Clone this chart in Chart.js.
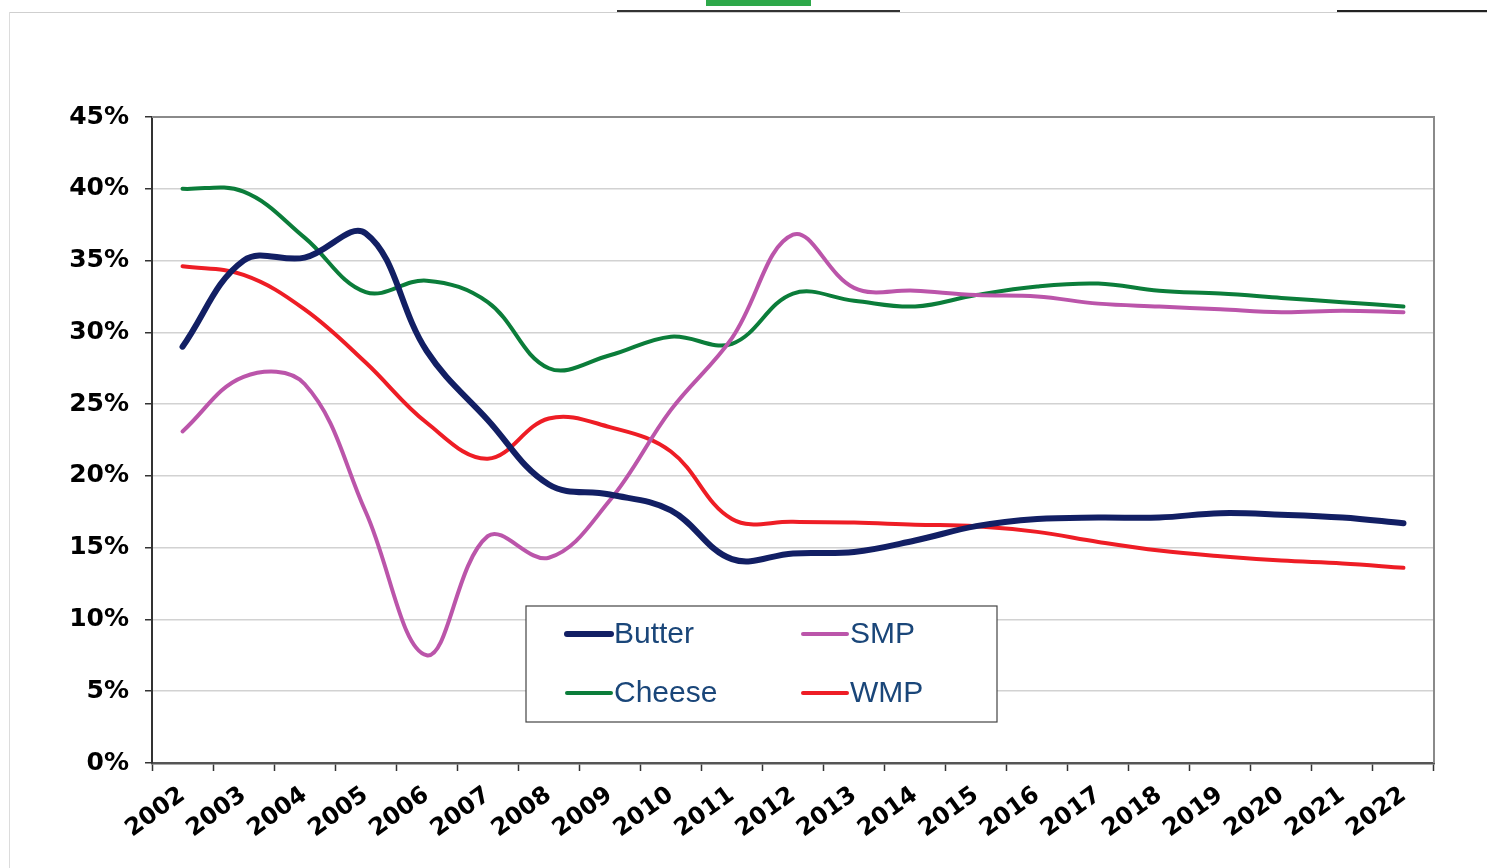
<!DOCTYPE html>
<html>
<head>
<meta charset="utf-8">
<script src="https://cdn.jsdelivr.net/npm/chart.js@4.4.1/dist/chart.umd.min.js"></script>
<style>
    html, body { margin: 0; padding: 0; background: #ffffff; }
    #page { position: relative; width: 1487px; height: 868px; overflow: hidden; }
    .deco { position: absolute; }
    #chart { position: absolute; left: 0; top: 0; }
</style>
</head>
<body>
<div id="page">
    <!-- bordas e marcas do slide -->
    <div class="deco" style="left:9px; top:12px; width:1478px; height:1px; background:#cfcfcf;"></div>
    <div class="deco" style="left:9px; top:12px; width:1px; height:856px; background:#dcdcdc;"></div>
    <div class="deco" style="left:617px; top:10px; width:283px; height:2px; background:#333333;"></div>
    <div class="deco" style="left:706px; top:0px; width:105px; height:6px; background:#2ea84a;"></div>
    <div class="deco" style="left:1337px; top:10px; width:150px; height:2px; background:#222222;"></div>
    <canvas id="chart" width="1487" height="868"></canvas>
</div>
<script>
// --- Dados ---
const years = ['2002', '2003', '2004', '2005', '2006', '2007', '2008', '2009', '2010', '2011', '2012',
               '2013', '2014', '2015', '2016', '2017', '2018', '2019', '2020', '2021', '2022'];

const butter = [29.0, 35.0, 35.2, 36.9, 28.7, 23.9, 19.4, 18.7, 17.6, 14.2, 14.6,
                14.7, 15.5, 16.5, 17.0, 17.1, 17.1, 17.4, 17.3, 17.1, 16.7];
const smp    = [23.1, 26.9, 26.4, 17.5, 7.5, 15.8, 14.3, 18.3, 24.6, 29.6, 36.8,
                33.1, 32.9, 32.6, 32.5, 32.0, 31.8, 31.6, 31.4, 31.5, 31.4];
const cheese = [40.0, 39.8, 36.6, 32.8, 33.6, 32.1, 27.5, 28.4, 29.7, 29.2, 32.7,
                32.2, 31.8, 32.6, 33.2, 33.4, 32.9, 32.7, 32.4, 32.1, 31.8];
const wmp    = [34.6, 34.0, 31.6, 27.9, 23.7, 21.2, 24.0, 23.4, 21.7, 17.0, 16.8,
                16.75, 16.6, 16.5, 16.1, 15.4, 14.8, 14.4, 14.1, 13.9, 13.6];

const yTicks = [0, 5, 10, 15, 20, 25, 30, 35, 40, 45];

// --- Plugin: borda superior/direita da área do gráfico ---
const plotFrame = {
    id: 'plotFrame',
    afterDraw(chart) {
        const { ctx, chartArea: a } = chart;
        ctx.save();
        ctx.strokeStyle = '#8a8a8a';
        ctx.lineWidth = 2;
        ctx.beginPath();
        ctx.moveTo(a.left, a.top);
        ctx.lineTo(a.right, a.top);
        ctx.lineTo(a.right, a.bottom);
        ctx.stroke();
        ctx.restore();
    }
};

// --- Plugin: legenda em caixa (2 colunas) dentro do gráfico ---
const boxLegend = {
    id: 'boxLegend',
    afterDraw(chart, args, opts) {
        const { ctx } = chart;
        const box = opts.box;
        ctx.save();
        ctx.fillStyle = '#ffffff';
        ctx.fillRect(box.x, box.y, box.w, box.h);
        ctx.strokeStyle = '#444444';
        ctx.lineWidth = 1.2;
        ctx.strokeRect(box.x, box.y, box.w, box.h);

        ctx.font = opts.font;
        ctx.textBaseline = 'middle';
        ctx.textAlign = 'left';
        ctx.lineCap = 'round';

        chart.data.datasets.forEach((ds, i) => {
            const col = i % 2;
            const row = Math.floor(i / 2);
            const x = box.x + opts.colX[col];
            const y = box.y + opts.rowY[row];
            ctx.strokeStyle = ds.borderColor;
            ctx.lineWidth = ds.borderWidth;
            ctx.beginPath();
            ctx.moveTo(x, y);
            ctx.lineTo(x + opts.lineLen, y);
            ctx.stroke();
            ctx.fillStyle = opts.color;
            ctx.fillText(ds.label, x + opts.lineLen + 3, y + 1);
        });
        ctx.restore();
    }
};

function makeSeries(label, data, color, width) {
    return {
        label: label,
        data: data,
        borderColor: color,
        backgroundColor: color,
        borderWidth: width,
        pointRadius: 0,
        pointHoverRadius: 0,
        tension: 0.38,
        fill: false,
        borderCapStyle: 'round'
    };
}

const ctx = document.getElementById('chart').getContext('2d');
new Chart(ctx, {
    type: 'line',
    data: {
        labels: years,
        datasets: [
            makeSeries('Butter', butter, '#121f64', 6),
            makeSeries('SMP', smp, '#bb55aa', 4),
            makeSeries('Cheese', cheese, '#0b7d3a', 4),
            makeSeries('WMP', wmp, '#ee1d25', 4)
        ]
    },
    options: {
        responsive: false,
        animation: false,
        events: [],
        layout: { padding: { left: 0, top: 117, right: 53, bottom: 0 } },
        plugins: {
            legend: { display: false },
            tooltip: { enabled: false },
            boxLegend: {
                box: { x: 526, y: 606, w: 471, h: 116 },
                colX: [41, 277],
                rowY: [28, 87],
                lineLen: 44,
                font: '30px "Liberation Sans", Arial, sans-serif',
                color: '#1a4679'
            }
        },
        scales: {
            x: {
                offset: true,
                afterFit: (scale) => { scale.height = 105; },
                grid: {
                    offset: true,
                    drawOnChartArea: false,
                    drawTicks: true,
                    tickLength: 8,
                    tickColor: '#333333',
                    tickWidth: 1.5
                },
                border: { display: true, color: '#555555', width: 2.5 },
                ticks: {
                    autoSkip: false,
                    minRotation: 36,
                    maxRotation: 36,
                    padding: 10,
                    color: '#000000',
                    font: { family: '"DejaVu Sans", Verdana, sans-serif', size: 24, weight: 'bold' }
                }
            },
            y: {
                min: 0,
                max: 45,
                afterFit: (scale) => { scale.width = 152; },
                afterBuildTicks: (scale) => { scale.ticks = yTicks.map(v => ({ value: v })); },
                grid: {
                    color: '#d2d2d2',
                    lineWidth: 1.5,
                    tickLength: 7,
                    tickColor: '#333333',
                    tickWidth: 1.5
                },
                border: { display: true, color: '#333333', width: 2 },
                ticks: {
                    padding: 16,
                    color: '#000000',
                    font: { family: '"DejaVu Sans", Verdana, sans-serif', size: 25, weight: 'bold' },
                    callback: (v) => v + '%'
                }
            }
        }
    },
    plugins: [plotFrame, boxLegend]
});
</script>
</body>
</html>
